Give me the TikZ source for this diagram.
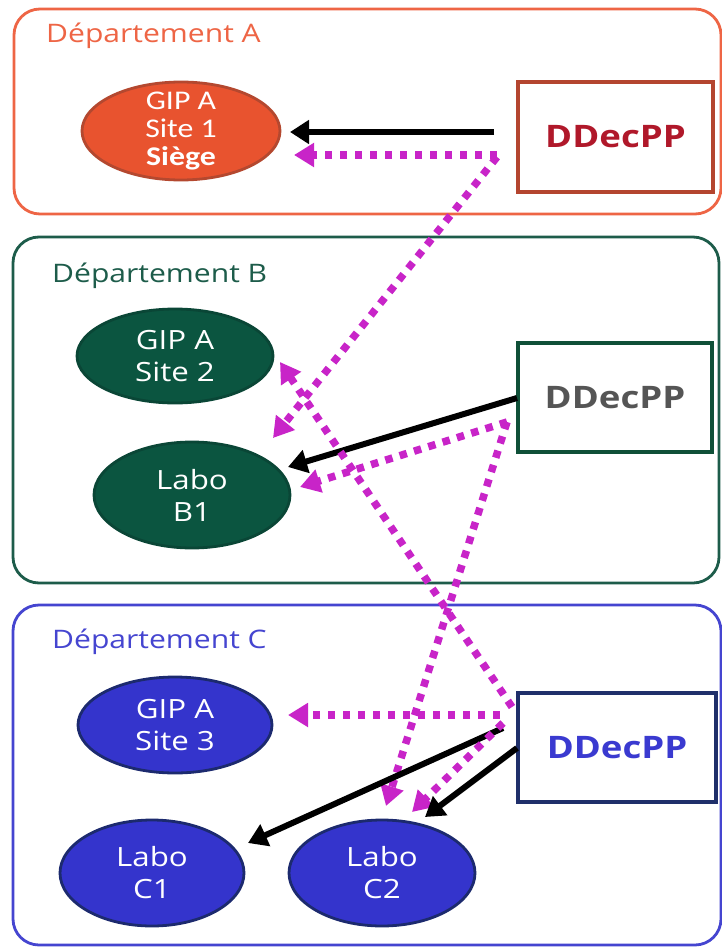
\documentclass[tikz,border=0pt]{standalone}
\usepackage{fontspec}
\setmainfont{Open Sans}[FakeStretch=1.18]
\newfontfamily\calfont{Carlito}[FakeStretch=1.18]
\usetikzlibrary{arrows.meta,shapes.geometric}
\definecolor{deptA}{HTML}{EE6545}
\definecolor{deptB}{HTML}{1D5C4A}
\definecolor{deptC}{HTML}{4545D0}
\definecolor{ellA}{HTML}{E8532F}
\definecolor{ellAb}{HTML}{B4482F}
\definecolor{ellB}{HTML}{0B5540}
\definecolor{ellBb}{HTML}{0A4636}
\definecolor{ellC}{HTML}{3434CC}
\definecolor{ellCb}{HTML}{1C2A6E}
\definecolor{boxAb}{HTML}{B4452F}
\definecolor{boxBb}{HTML}{0F5038}
\definecolor{boxCb}{HTML}{1F2F6A}
\definecolor{txtA}{HTML}{B0182A}
\definecolor{txtB}{HTML}{555555}
\definecolor{txtC}{HTML}{3A3AD0}
\definecolor{mag}{HTML}{C824C8}
\begin{document}
\begin{tikzpicture}[x=1pt,y=-1pt,
  dept/.style={line width=2.8pt,rounded corners=26pt},
  deptlabel/.style={anchor=base west,font=\fontsize{25.5}{30}\selectfont,inner sep=0pt},
  ell/.style={ellipse,inner sep=0pt,line width=2.8pt},
  elltext/.style={align=center,text=white,inner sep=0pt,font=\fontsize{26.5}{32}\selectfont},
  ddbox/.style={draw,fill=white,line width=4.5pt,inner sep=0pt,font=\fontsize{31}{36}\selectfont\bfseries},
  blk/.style={draw=black,line width=6pt,-{Triangle[length=19pt,width=23pt]}},
  mg/.style={draw=mag,line width=7.5pt,dash pattern=on 7.5pt off 7.5pt,-{Triangle[length=20pt,width=23pt]}}
]
\useasboundingbox[fill=white] (0,0) rectangle (722,950);

% departments
\draw[dept,draw=deptA] (14,9) rectangle (721,214);
\draw[dept,draw=deptB] (13,237) rectangle (719,583);
\draw[dept,draw=deptC] (13,605) rectangle (721,945);
\node[deptlabel,text=deptA] (labA) at (46,43) {Département A};
\node[deptlabel,text=deptB] (labB) at (52,282) {Département B};
\node[deptlabel,text=deptC] (labC) at (52,648) {Département C};

% ellipses
\node[ell,fill=ellA,draw=ellAb,minimum width=198pt,minimum height=98pt] (siteA) at (181,131) {};
\node[elltext,font=\calfont\fontsize{27}{28}\selectfont] (siteAt) at (siteA) {GIP A\\Site 1\\\textbf{Siège}};
\node[ell,fill=ellB,draw=ellBb,minimum width=196pt,minimum height=94pt] (siteB) at (175,356) {};
\node[elltext] (siteBt) at (siteB) {GIP A\\Site 2};
\node[ell,fill=ellB,draw=ellBb,minimum width=196pt,minimum height=106pt] (b1) at (192,495) {};
\node[elltext] (b1t) at (b1) {Labo\\B1};
\node[ell,fill=ellC,draw=ellCb,minimum width=194pt,minimum height=96pt] (siteC) at (175,725) {};
\node[elltext] (siteCt) at (siteC) {GIP A\\Site 3};
\node[ell,fill=ellC,draw=ellCb,minimum width=184pt,minimum height=106pt] (c1) at (152,873) {};
\node[elltext] (c1t) at (c1) {Labo\\C1};
\node[ell,fill=ellC,draw=ellCb,minimum width=186pt,minimum height=106pt] (c2) at (382,873) {};
\node[elltext] (c2t) at (c2) {Labo\\C2};

% DDecPP boxes
\node[ddbox,draw=boxAb,text=txtA,minimum width=195pt,minimum height=110pt] (boxA) at (615.5,137) {DDecPP};
\node[ddbox,draw=boxBb,text=txtB,minimum width=194pt,minimum height=109pt] (boxB) at (615,397.5) {DDecPP};
\node[ddbox,draw=boxCb,text=txtC,minimum width=198pt,minimum height=109pt] (boxC) at (617,747.5) {DDecPP};

% connectors department A
\draw[blk] ([shift={(-121.5,-5)}]boxA.center) -- ([shift={(109,1)}]siteA.center);
\draw[mg] ([shift={(-118.5,18)}]boxA.center) -- ([shift={(113,24)}]siteA.center);
\draw[mg] ([shift={(-118.5,20)}]boxA.center) -- ([shift={(81,-57)}]b1.center);

% connectors department B
\draw[blk] ([shift={(-98,0.5)}]boxB.center) -- ([shift={(96,-28)}]b1.center);
\draw[mg] ([shift={(-108,24.5)}]boxB.center) -- ([shift={(108,-8)}]b1.center);
\draw[mg] ([shift={(-108,24.5)}]boxB.center) -- ([shift={(4,-67)}]c2.center);

% connectors department C
\draw[mg] ([shift={(-105,-40.5)}]boxC.center) -- ([shift={(105,6)}]siteB.center);
\draw[mg] ([shift={(-117,-32.5)}]boxC.center) -- ([shift={(113,-10)}]siteC.center);
\draw[blk] ([shift={(-114,-19.5)}]boxC.center) -- ([shift={(96,-30)}]c1.center);
\draw[mg] ([shift={(-114,-24.5)}]boxC.center) -- ([shift={(30,-61)}]c2.center);
\draw[blk] ([shift={(-100,0.5)}]boxC.center) -- ([shift={(43,-56)}]c2.center);
\end{tikzpicture}
\end{document}
